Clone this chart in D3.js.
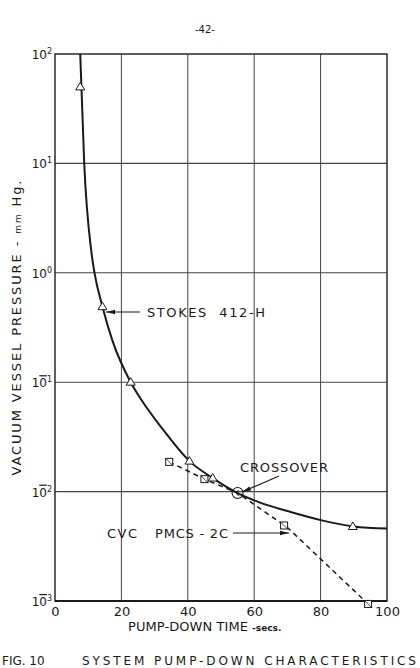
<!DOCTYPE html>
<html>
<head>
<meta charset="utf-8">
<script src="https://cdn.jsdelivr.net/npm/d3@7"></script>
<style>
  body { margin: 0; background: #fff; }
  svg { display: block; font-family: "DejaVu Sans", sans-serif; }
  text { fill: #1a1a1a; }
</style>
</head>
<body>
<svg width="420" height="668"></svg>
<script>
// data
var xTicks = [0, 20, 40, 60, 80, 100];
var yExponents = [2, 1, 0, -1, -2, -3];

// Stokes 412-H pump, solid curve + triangle markers
var stokesCurveX = [7.6, 8.8, 10.9, 11.9, 14.3, 17.3, 22.8, 26, 32.5, 40.5, 47.5, 55, 61, 71, 81, 90, 100];
var stokesCurveY = [100, 10, 1.6, 1.0, 0.49, 0.24, 0.1, 0.069, 0.037, 0.019, 0.0133, 0.0097, 0.0081, 0.0065, 0.0054, 0.0048, 0.0046];
var stokesPtsX = [7.6, 14.3, 22.8, 40.5, 47.5, 89.7];
var stokesPtsY = [50, 0.49, 0.1, 0.019, 0.0133, 0.0048];

// CVC PMCS-2C pump, dashed line + square markers
var cvcLineX = [34.4, 45, 55, 70, 94.3];
var cvcLineY = [0.0187, 0.013, 0.0097, 0.0047, 0.00094];
var cvcPtsX = [34.4, 45, 69, 94.3];
var cvcPtsY = [0.0187, 0.013, 0.0049, 0.00094];

var crossover = [55, 0.0097];

var margin = {top: 54, right: 33, bottom: 67, left: 55};
var width = 420 - margin.left - margin.right;
var height = 668 - margin.top - margin.bottom;

var ink = '#1a1a1a';
var svg = d3.select('svg');

var x = d3.scaleLinear().domain([0, 100]).range([0, width]);
var y = d3.scaleLog().domain([1e-3, 1e2]).range([height, 0]);

var g = svg.append('g')
  .attr('transform', 'translate(' + margin.left + ',' + margin.top + ')');

// grid
g.selectAll('.vgrid')
  .data(xTicks.slice(1, -1))
  .enter().append('line')
    .attr('x1', d => x(d)).attr('x2', d => x(d))
    .attr('y1', 0).attr('y2', height)
    .attr('stroke', '#444').attr('stroke-width', 1);

g.selectAll('.hgrid')
  .data(yExponents.slice(1, -1))
  .enter().append('line')
    .attr('x1', 0).attr('x2', width)
    .attr('y1', d => y(Math.pow(10, d))).attr('y2', d => y(Math.pow(10, d)))
    .attr('stroke', '#444').attr('stroke-width', 1.1);

// frame
g.append('rect')
  .attr('width', width).attr('height', height)
  .attr('fill', 'none').attr('stroke', ink).attr('stroke-width', 1.4);
g.append('line')
  .attr('x1', 0).attr('x2', width).attr('y1', height).attr('y2', height)
  .attr('stroke', ink).attr('stroke-width', 2.2);

// x axis labels
var xAxis = d3.axisBottom(x).tickValues(xTicks).tickSize(0).tickPadding(6);
var xg = g.append('g')
  .attr('transform', 'translate(0,' + height + ')')
  .call(xAxis);
xg.select('.domain').remove();
xg.selectAll('text')
  .attr('font-size', 13)
  .attr('font-family', '"DejaVu Sans", sans-serif')
  .attr('fill', ink);

// y tick labels: 10 with exponent, negatives drawn with a bar over the 0
var yl = g.selectAll('.ylab')
  .data(yExponents)
  .enter().append('text')
    .attr('x', -3)
    .attr('y', d => y(Math.pow(10, d)) + 5)
    .attr('text-anchor', 'end')
    .attr('font-size', 12);
yl.append('tspan').text('1');
yl.append('tspan').text('0')
  .style('text-decoration', d => d < 0 ? 'overline' : 'none');
yl.append('tspan')
  .attr('dy', -5)
  .attr('font-size', 8)
  .text(d => Math.abs(d));

// Stokes curve
var line = d3.line()
  .x(d => x(d[0]))
  .y(d => y(d[1]))
  .curve(d3.curveMonotoneX);

g.append('path')
  .datum(d3.zip(stokesCurveX, stokesCurveY))
  .attr('d', line)
  .attr('fill', 'none')
  .attr('stroke', ink)
  .attr('stroke-width', 2);

// CVC dashed line
g.append('path')
  .datum(d3.zip(cvcLineX, cvcLineY))
  .attr('d', d3.line().x(d => x(d[0])).y(d => y(d[1])))
  .attr('fill', 'none')
  .attr('stroke', ink)
  .attr('stroke-width', 1.5)
  .attr('stroke-dasharray', '5,4');

// triangles
g.selectAll('.tri')
  .data(d3.zip(stokesPtsX, stokesPtsY))
  .enter().append('path')
    .attr('transform', d => 'translate(' + x(d[0]) + ',' + y(d[1]) + ')')
    .attr('d', 'M0,-4.5L4.5,3L-4.5,3Z')
    .attr('fill', '#fff')
    .attr('stroke', ink)
    .attr('stroke-width', 1);

// squares with a slash
var sq = g.selectAll('.sq')
  .data(d3.zip(cvcPtsX, cvcPtsY))
  .enter().append('g')
    .attr('transform', d => 'translate(' + x(d[0]) + ',' + y(d[1]) + ')');
sq.append('rect')
  .attr('x', -3.5).attr('y', -3.5).attr('width', 7).attr('height', 7)
  .attr('fill', '#fff').attr('stroke', ink).attr('stroke-width', 1);
sq.append('line')
  .attr('x1', -3.5).attr('y1', -3.5).attr('x2', 3.5).attr('y2', 3.5)
  .attr('stroke', ink).attr('stroke-width', 0.8);

// crossover circle
g.append('circle')
  .attr('cx', x(crossover[0])).attr('cy', y(crossover[1]))
  .attr('r', 5.5)
  .attr('fill', 'none').attr('stroke', ink).attr('stroke-width', 1.1);
g.append('path')
  .attr('transform', 'translate(' + x(crossover[0]) + ',' + y(crossover[1]) + ')')
  .attr('d', 'M1.5,-2.5A2.5,2.5 0 1 0 1.5,2.5')
  .attr('fill', 'none').attr('stroke', ink).attr('stroke-width', 0.8);

// arrows
function arrow(x1, y1, x2, y2) {
  var a = Math.atan2(y2 - y1, x2 - x1);
  svg.append('line')
    .attr('x1', x1).attr('y1', y1).attr('x2', x2).attr('y2', y2)
    .attr('stroke', ink).attr('stroke-width', 1.1);
  svg.append('path')
    .attr('transform', 'translate(' + x2 + ',' + y2 + ') rotate(' + (a * 180 / Math.PI) + ')')
    .attr('d', 'M0,0L-9,-2.2L-9,2.2Z')
    .attr('fill', ink);
}

arrow(140, 312, 106, 312);
arrow(279, 476, 242, 492);
arrow(233, 533, 289, 533);

// annotations
svg.append('text')
  .attr('x', 147).attr('y', 317)
  .attr('font-size', 13)
  .attr('textLength', 118)
  .attr('xml:space', 'preserve')
  .text('STOKES  412-H');

svg.append('text')
  .attr('x', 240).attr('y', 472)
  .attr('font-size', 13)
  .attr('textLength', 88)
  .text('CROSSOVER');

svg.append('text')
  .attr('x', 107).attr('y', 538)
  .attr('font-size', 13)
  .attr('textLength', 30)
  .text('CVC');

svg.append('text')
  .attr('x', 155).attr('y', 538)
  .attr('font-size', 13)
  .attr('textLength', 73)
  .text('PMCS - 2C');

// page number
svg.append('text')
  .attr('x', 205).attr('y', 33)
  .attr('text-anchor', 'middle')
  .attr('font-size', 10)
  .text('-42-');

// axis titles
var xt = svg.append('text')
  .attr('x', 128).attr('y', 631)
  .attr('font-size', 13);
xt.append('tspan').attr('textLength', 120).text('PUMP-DOWN  TIME');
xt.append('tspan').attr('dx', 4).attr('font-size', 9).attr('font-weight', 'bold').text('-secs.');

var ytl = svg.append('text')
  .attr('transform', 'translate(21,' + 328 + ') rotate(-90)')
  .attr('text-anchor', 'middle')
  .attr('font-size', 13)
  .attr('textLength', 295);
ytl.append('tspan').text('VACUUM  VESSEL  PRESSURE - ');
ytl.append('tspan').attr('font-size', 9).text('mm');
ytl.append('tspan').text(' Hg.');

// caption at the foot of the page
svg.append('text')
  .attr('x', 2).attr('y', 665)
  .attr('font-size', 12)
  .text('FIG. 10');
svg.append('text')
  .attr('x', 82).attr('y', 665)
  .attr('font-size', 12)
  .attr('textLength', 334)
  .text('SYSTEM  PUMP-DOWN  CHARACTERISTICS');
</script>
</body>
</html>
